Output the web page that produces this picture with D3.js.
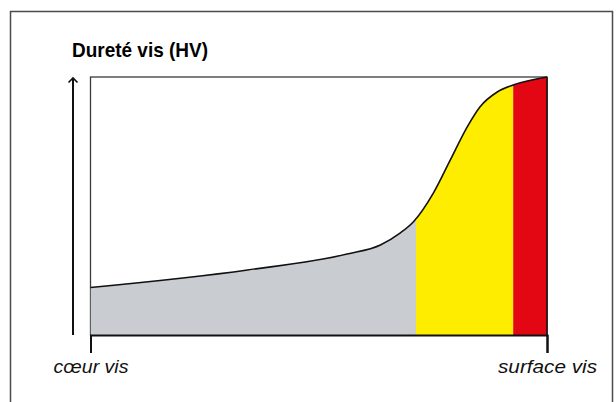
<!DOCTYPE html>
<html><head><meta charset="utf-8">
<script src="https://cdn.jsdelivr.net/npm/d3@7"></script>
<style>
html,body{margin:0;padding:0;background:#fff;}
svg{display:block;}
</style></head>
<body>
<svg id="c" width="616" height="402"></svg>
<script>
// ---- data ----
const title = "Dureté vis (HV)";
const axisLabels = ["cœur vis", "surface vis"];
const axisPositions = [0, 1];
// position from core (0) to surface (1), relative hardness (0..1)
const depth    = [0, 0.344, 0.562, 0.635, 0.678, 0.707, 0.751, 0.788, 0.825, 0.853, 0.891, 0.926, 1];
const hardness = [0.184, 0.252, 0.314, 0.349, 0.395, 0.438, 0.550, 0.678, 0.806, 0.884, 0.942, 0.969, 1];
const zoneNames  = ["core", "transition", "surface"];
const zoneStarts = [0, 0.713, 0.926];
const zoneEnds   = [0.713, 0.926, 1];
const zoneColors = ["#c9cdd1", "#ffed00", "#e30613"];

// ---- layout ----
const svg = d3.select("#c");
const L = 90.5, R = 547, T = 77, B = 335;
const x = d3.scaleLinear().domain([0, 1]).range([L, R]);
const y = d3.scaleLinear().domain([0, 1]).range([B, T]);

// outer frame
svg.append("rect").attr("x", 10.5).attr("y", 11.5).attr("width", 602).attr("height", 420)
  .attr("fill", "none").attr("stroke", "#4a4a4a").attr("stroke-width", 1.5);

// title
svg.append("text").attr("x", 72).attr("y", 56.5)
  .attr("font-family", "'Liberation Sans Narrow','Arial Narrow','Liberation Sans',Arial,sans-serif")
  .attr("font-weight", "bold").attr("font-size", 21)
  .attr("textLength", 136).attr("lengthAdjust", "spacingAndGlyphs")
  .attr("fill", "#000").text(title);

const pts = depth.map((d, i) => [d, hardness[i]]);

// zones as clip paths
const defs = svg.append("defs");
zoneNames.forEach((n, i) => {
  defs.append("clipPath").attr("id", "clip-" + n).append("rect")
    .attr("x", x(zoneStarts[i])).attr("y", T - 5)
    .attr("width", x(zoneEnds[i]) - x(zoneStarts[i])).attr("height", B - T + 10);
});

const area = d3.area().x(d => x(d[0])).y0(y(0)).y1(d => y(d[1])).curve(d3.curveMonotoneX);
const line = d3.line().x(d => x(d[0])).y(d => y(d[1])).curve(d3.curveMonotoneX);

// plot frame
svg.append("rect").attr("x", L).attr("y", T).attr("width", R - L).attr("height", B - T)
  .attr("fill", "#fff").attr("stroke", "#3a3a3a").attr("stroke-width", 1.3);

zoneNames.forEach((n, i) => {
  svg.append("path").datum(pts).attr("d", area)
    .attr("fill", zoneColors[i]).attr("clip-path", "url(#clip-" + n + ")");
});

svg.append("path").datum(pts).attr("d", line)
  .attr("fill", "none").attr("stroke", "#111").attr("stroke-width", 1.6);

// right edge
svg.append("line").attr("x1", R).attr("x2", R).attr("y1", T).attr("y2", B)
  .attr("stroke", "#111").attr("stroke-width", 1.5);

// bottom axis
const xAxis = d3.axisBottom(x).tickValues(axisPositions)
  .tickFormat((d, i) => axisLabels[i]).tickSize(18).tickPadding(7);
const ax = svg.append("g").attr("transform", `translate(0,${B})`).call(xAxis);
ax.select(".domain").attr("stroke", "#111").attr("stroke-width", 2);
ax.selectAll(".tick line").attr("stroke", "#111").attr("stroke-width", 2);
ax.selectAll(".tick text")
  .attr("font-family", "'Liberation Sans Narrow','Arial Narrow','Liberation Sans',Arial,sans-serif")
  .attr("font-style", "italic").attr("font-size", 18).attr("fill", "#111")
  .attr("lengthAdjust", "spacingAndGlyphs")
  .attr("textLength", (d, i) => i === 0 ? 75 : 99);

// vertical arrow
const ay = svg.append("g").attr("stroke", "#111").attr("fill", "none").attr("stroke-width", 2);
ay.append("line").attr("x1", 73).attr("x2", 73).attr("y1", y(0)).attr("y2", y(1) + 1);
ay.append("polyline").attr("stroke-width", 1.6)
  .attr("points", `68.5,${y(1)+5.5} 73,${y(1)+1} 77.5,${y(1)+5.5}`);
</script>
</body></html>
